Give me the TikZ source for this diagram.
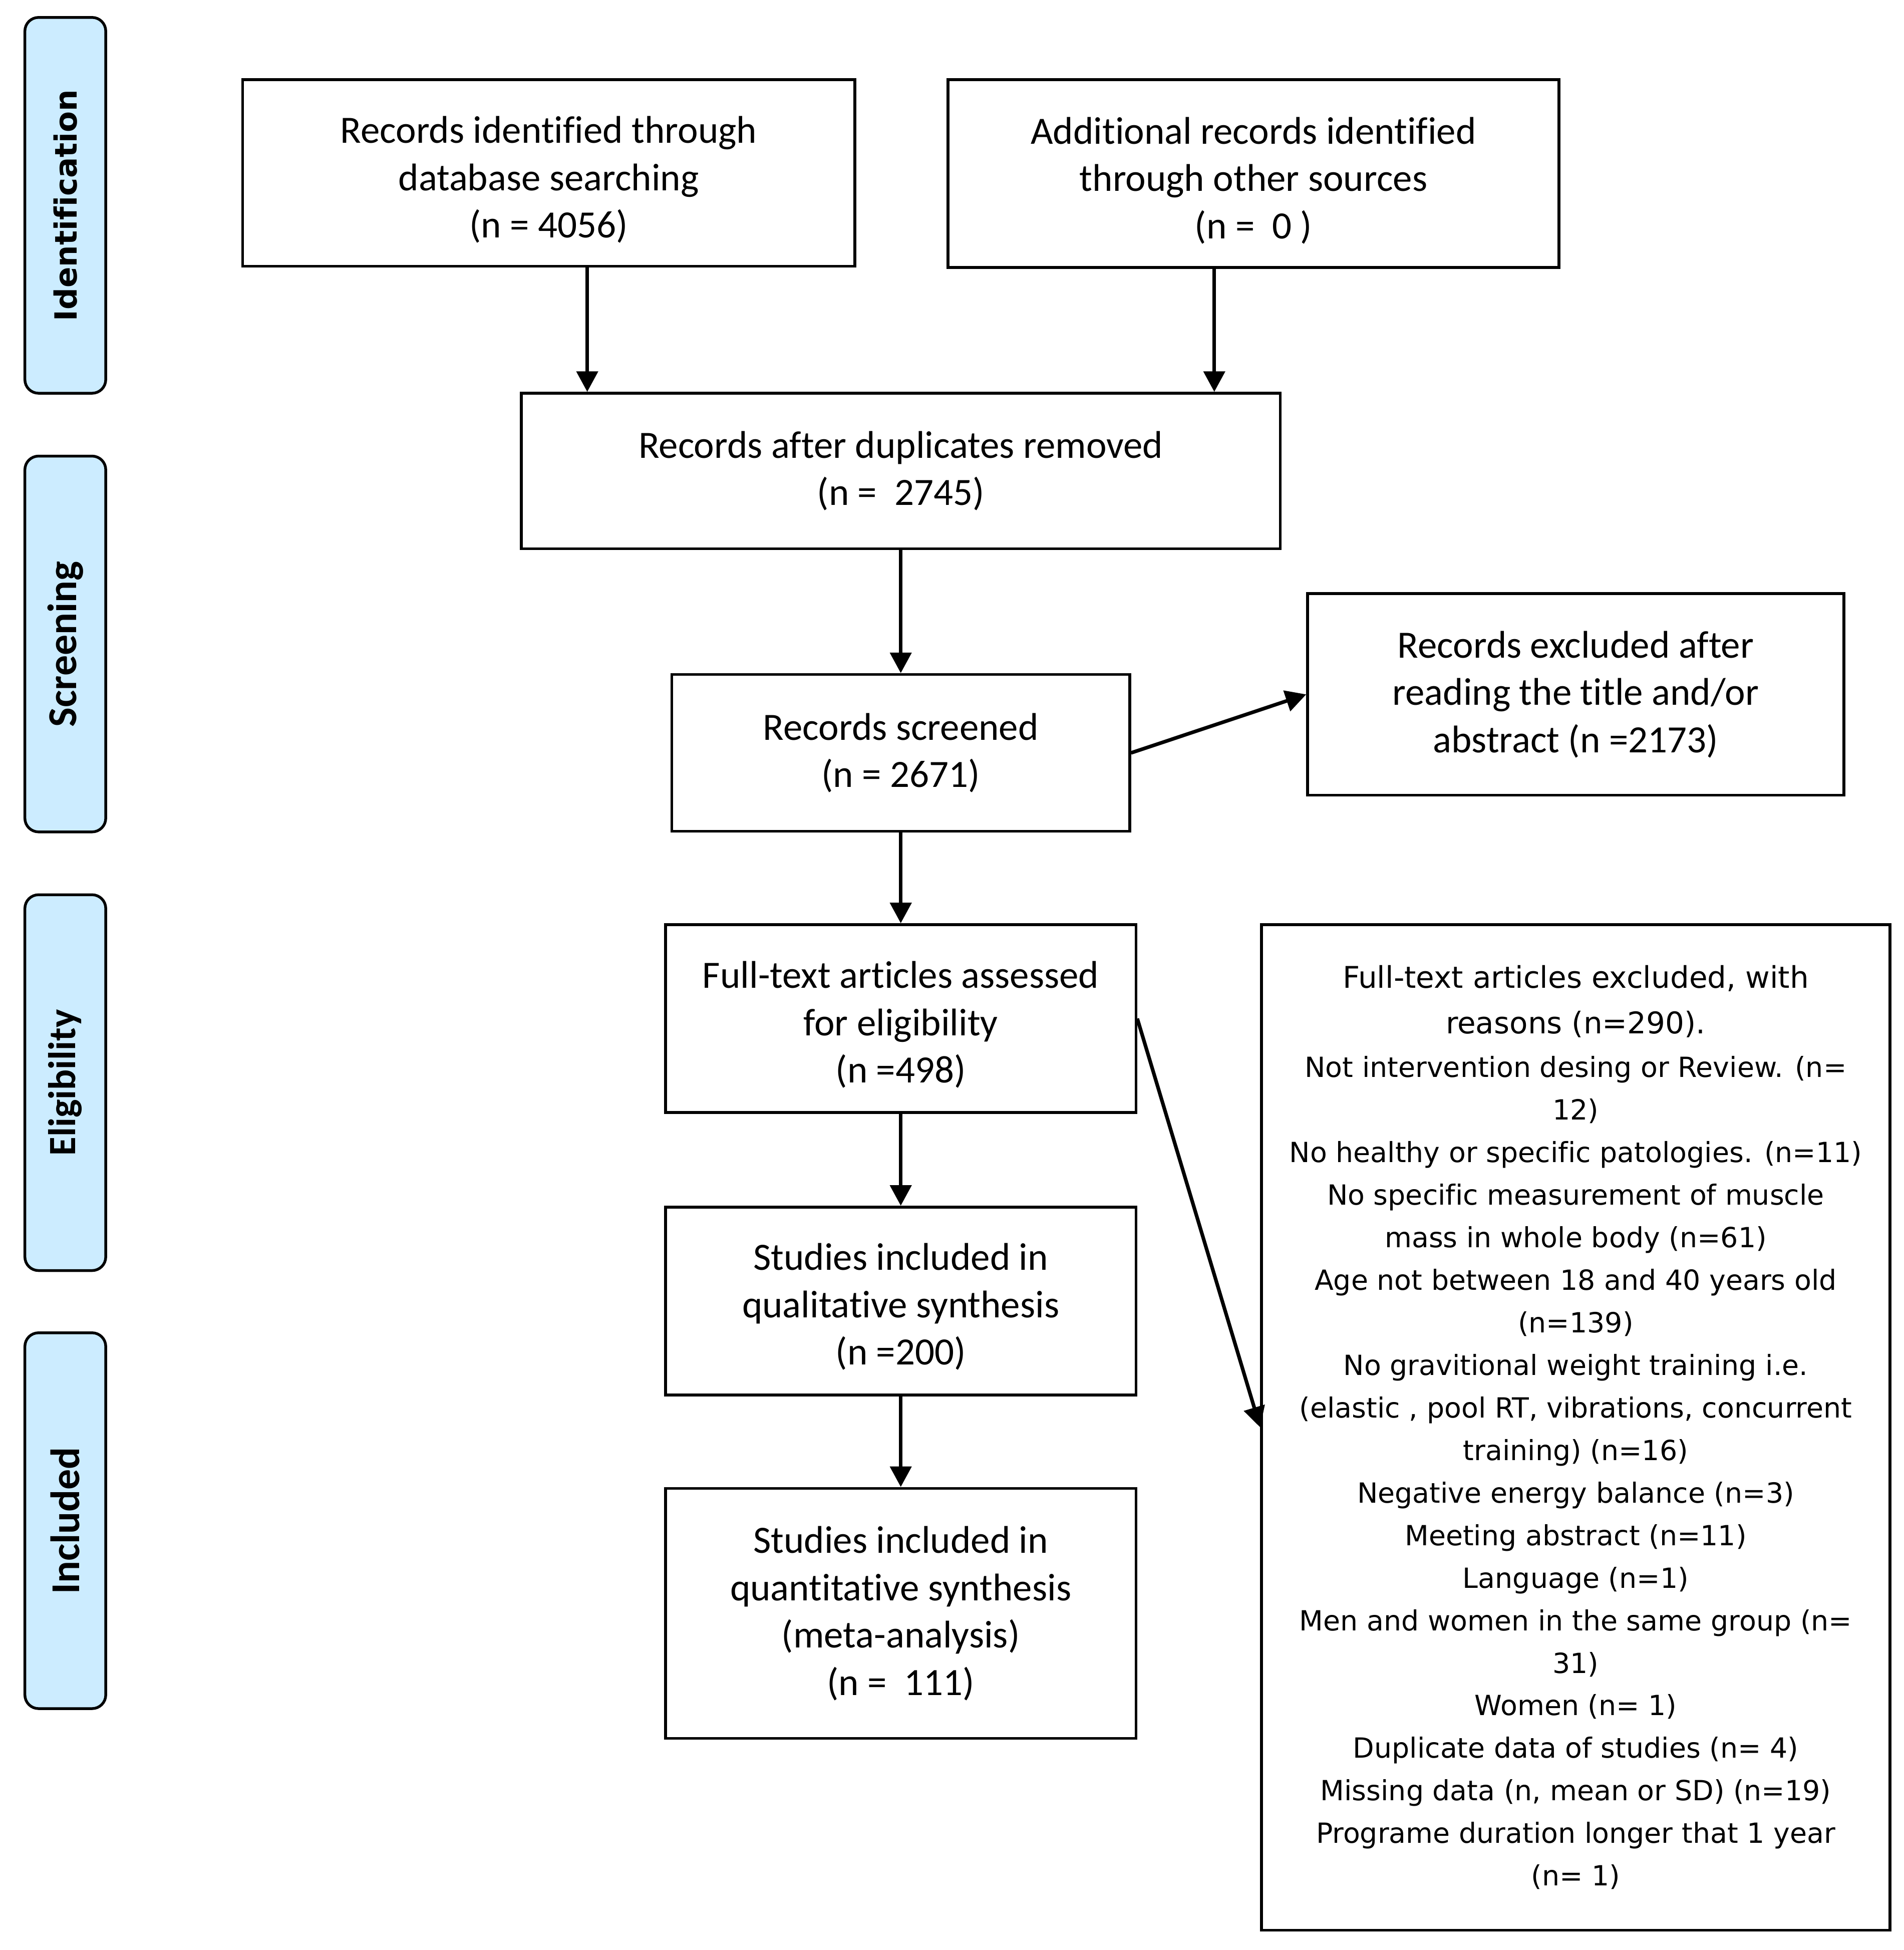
\documentclass[tikz,border=0pt]{standalone}
\usepackage{fontspec}
\setmainfont{Carlito}[Ligatures=NoCommon]
\newfontfamily\verd{DejaVu Sans}[Ligatures=NoCommon]
\usetikzlibrary{arrows.meta}
\definecolor{sidefill}{RGB}{204,236,255}
\begin{document}
\begin{tikzpicture}[x=1pt,y=-1pt,
  box/.style={draw,line width=2.2pt,align=center,inner sep=0pt,font=\fontsize{31}{38}\selectfont},
  txt/.style={align=center,inner sep=0pt,font=\fontsize{31}{38}\selectfont},
  arr/.style={line width=2.9pt,-{Triangle[length=16.5pt,width=17pt]}},
  side/.style={draw,line width=2.2pt,fill=sidefill,rounded corners=11pt,rotate=90,inner sep=0pt,minimum width=302pt,minimum height=65pt}]
\useasboundingbox (0,0) rectangle (1530,1567);
% side labels
\node[side,font=\verd\bfseries\fontsize{24.6}{30}\selectfont] (s1) at (52.5,165) {Identification};
\node[side,font=\bfseries\fontsize{33}{38}\selectfont] (s2) at (52.5,517.5) {Screening};
\node[side,font=\bfseries\fontsize{31}{38}\selectfont] (s3) at (52.5,870) {Eligibility};
\node[side,font=\bfseries\fontsize{33}{38}\selectfont] (s4) at (52.5,1222) {Included};
% boxes
\node[box,minimum width=492pt,minimum height=150pt] (A) at (441,139) {};
\node[txt] (At) at ([yshift=-5.5pt]A.center) {Records identified through\\database searching\\(n = 4056)};
\node[box,minimum width=491pt,minimum height=151pt] (B) at (1007.5,139.5) {};
\node[txt] (Bt) at ([yshift=-5.5pt]B.center) {Additional records identified\\through other sources\\(n =\ \ 0 )};
\node[box,minimum width=610pt,minimum height=125pt] (C) at (724,378.5) {Records after duplicates removed\\(n =\ \ 2745)};
\node[box,minimum width=368pt,minimum height=126pt] (D) at (724,605) {Records screened\\(n = 2671)};
\node[box,minimum width=431pt,minimum height=162pt] (E) at (1266.5,558) {Records excluded after\\reading the title and/or\\abstract (n =2173)};
\node[box,minimum width=378pt,minimum height=151pt] (F) at (724,818.5) {};
\node[txt] (Ft) at ([yshift=-5pt]F.center) {Full-text articles assessed\\for eligibility\\(n =498)};
\node[box,minimum width=378pt,minimum height=151pt] (G) at (724,1045.5) {};
\node[txt] (Gt) at ([yshift=-4.5pt]G.center) {Studies included in\\qualitative synthesis\\(n =200)};
\node[box,minimum width=378pt,minimum height=201pt] (H) at (724,1296.5) {Studies included in\\quantitative synthesis\\(meta-analysis)\\(n =\ \ 111)};
\node[box,minimum width=505pt,minimum height=808pt,font=\verd\fontsize{22.3}{34.2}\selectfont] (I) at (1266.5,1147) {\fontsize{24}{34.2}\selectfont Full-text articles excluded, with\\[2.5pt]
\fontsize{24}{34.2}\selectfont reasons (n=290).\\[0.8pt]
\fontsize{22.3}{34.2}\selectfont Not intervention desing or Review. (n=\\
12)\\
No healthy or specific patologies. (n=11)\\
No specific measurement of muscle\\
mass in whole body (n=61)\\
Age not between 18 and 40 years old\\
(n=139)\\
No gravitional weight training i.e.\\
(elastic , pool RT, vibrations, concurrent\\
training) (n=16)\\
Negative energy balance (n=3)\\
Meeting abstract (n=11)\\
Language (n=1)\\
Men and women in the same group (n=\\
31)\\
Women (n= 1)\\
Duplicate data of studies (n= 4)\\
Missing data (n, mean or SD) (n=19)\\
Programe duration longer that 1 year\\
(n= 1)};
% connectors
\coordinate (ax) at (472,0);
\coordinate (bx) at (976,0);
\draw[arr] (A.south -| ax) -- (C.north -| ax);
\draw[arr] (B.south -| bx) -- (C.north -| bx);
\draw[arr] (C) -- (D);
\draw[arr] (D.east) -- (E.west);
\draw[arr] (D) -- (F);
\draw[arr] (F) -- (G);
\draw[arr] (G) -- (H);
\draw[arr] (F.east) -- (I.west);
\end{tikzpicture}
\end{document}
